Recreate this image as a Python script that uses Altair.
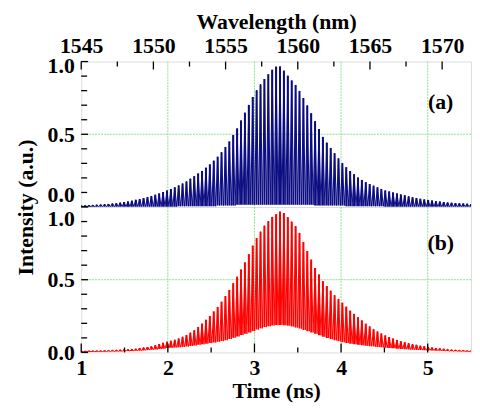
import altair as alt
import pandas as pd

# ---------------- data ----------------
# spike (peak) times in ns
peak_time = [1.000, 1.045, 1.090, 1.135, 1.180, 1.225, 1.270, 1.315, 1.360, 1.405,
             1.450, 1.495, 1.540, 1.585, 1.630, 1.675, 1.720, 1.765, 1.810, 1.855,
             1.900, 1.945, 1.990, 2.035, 2.080, 2.125, 2.170, 2.215, 2.260, 2.305,
             2.350, 2.395, 2.440, 2.485, 2.530, 2.575, 2.620, 2.665, 2.710, 2.755,
             2.800, 2.845, 2.890, 2.935, 2.980, 3.025, 3.070, 3.115, 3.160, 3.205,
             3.250, 3.295, 3.340, 3.385, 3.430, 3.475, 3.520, 3.565, 3.610, 3.655,
             3.700, 3.745, 3.790, 3.835, 3.880, 3.925, 3.970, 4.015, 4.060, 4.105,
             4.150, 4.195, 4.240, 4.285, 4.330, 4.375, 4.420, 4.465, 4.510, 4.555,
             4.600, 4.645, 4.690, 4.735, 4.780, 4.825, 4.870, 4.915, 4.960, 5.005,
             5.050, 5.095, 5.140, 5.185, 5.230, 5.275, 5.320, 5.365, 5.410, 5.455,
             5.500]

# trough times in ns (between spikes)
trough_time = [1.0225, 1.0675, 1.1125, 1.1575, 1.2025, 1.2475, 1.2925, 1.3375, 1.3825, 1.4275,
               1.4725, 1.5175, 1.5625, 1.6075, 1.6525, 1.6975, 1.7425, 1.7875, 1.8325, 1.8775,
               1.9225, 1.9675, 2.0125, 2.0575, 2.1025, 2.1475, 2.1925, 2.2375, 2.2825, 2.3275,
               2.3725, 2.4175, 2.4625, 2.5075, 2.5525, 2.5975, 2.6425, 2.6875, 2.7325, 2.7775,
               2.8225, 2.8675, 2.9125, 2.9575, 3.0025, 3.0475, 3.0925, 3.1375, 3.1825, 3.2275,
               3.2725, 3.3175, 3.3625, 3.4075, 3.4525, 3.4975, 3.5425, 3.5875, 3.6325, 3.6775,
               3.7225, 3.7675, 3.8125, 3.8575, 3.9025, 3.9475, 3.9925, 4.0375, 4.0825, 4.1275,
               4.1725, 4.2175, 4.2625, 4.3075, 4.3525, 4.3975, 4.4425, 4.4875, 4.5325, 4.5775,
               4.6225, 4.6675, 4.7125, 4.7575, 4.8025, 4.8475, 4.8925, 4.9375, 4.9825, 5.0275,
               5.0725, 5.1175, 5.1625, 5.2075, 5.2525, 5.2975, 5.3425, 5.3875, 5.4325, 5.4775]

# (a) spike heights
peak_a = [0.010, 0.011, 0.012, 0.013, 0.015, 0.017, 0.019, 0.021, 0.024, 0.026,
          0.030, 0.034, 0.038, 0.043, 0.049, 0.055, 0.061, 0.068, 0.076, 0.084,
          0.093, 0.103, 0.113, 0.124, 0.135, 0.148, 0.161, 0.176, 0.194, 0.212,
          0.230, 0.248, 0.270, 0.293, 0.318, 0.345, 0.376, 0.412, 0.450, 0.495,
          0.540, 0.594, 0.648, 0.702, 0.756, 0.802, 0.843, 0.880, 0.912, 0.943,
          0.965, 0.966, 0.937, 0.902, 0.869, 0.838, 0.798, 0.749, 0.698, 0.644,
          0.590, 0.536, 0.482, 0.442, 0.406, 0.370, 0.334, 0.301, 0.274, 0.247,
          0.225, 0.202, 0.186, 0.170, 0.158, 0.146, 0.135, 0.124, 0.113, 0.107,
          0.100, 0.093, 0.086, 0.080, 0.073, 0.067, 0.062, 0.056, 0.052, 0.048,
          0.044, 0.040, 0.037, 0.034, 0.031, 0.029, 0.027, 0.025, 0.024, 0.022,
          0.020]

# (a) trough levels
trough_a = [0.002, 0.002, 0.002, 0.002, 0.002, 0.002, 0.002, 0.002, 0.002, 0.002,
            0.002, 0.002, 0.002, 0.002, 0.002, 0.002, 0.002, 0.002, 0.002, 0.002,
            0.002, 0.002, 0.002, 0.002, 0.002, 0.005, 0.005, 0.005, 0.005, 0.005,
            0.005, 0.005, 0.005, 0.005, 0.005, 0.010, 0.010, 0.010, 0.010, 0.010,
            0.015, 0.015, 0.015, 0.015, 0.015, 0.015, 0.015, 0.015, 0.015, 0.015,
            0.015, 0.015, 0.015, 0.015, 0.015, 0.015, 0.015, 0.015, 0.015, 0.015,
            0.010, 0.010, 0.010, 0.010, 0.010, 0.010, 0.010, 0.010, 0.005, 0.005,
            0.005, 0.005, 0.005, 0.005, 0.005, 0.005, 0.005, 0.005, 0.002, 0.002,
            0.002, 0.002, 0.002, 0.002, 0.002, 0.002, 0.002, 0.002, 0.002, 0.002,
            0.002, 0.002, 0.002, 0.002, 0.002, 0.002, 0.002, 0.002, 0.002, 0.002]

# (b) spike heights
peak_b = [0.010, 0.010, 0.011, 0.011, 0.012, 0.012, 0.013, 0.014, 0.015, 0.016,
          0.018, 0.020, 0.022, 0.023, 0.026, 0.030, 0.034, 0.037, 0.042, 0.050,
          0.058, 0.066, 0.074, 0.080, 0.087, 0.096, 0.107, 0.120, 0.136, 0.152,
          0.175, 0.198, 0.224, 0.251, 0.281, 0.313, 0.348, 0.388, 0.430, 0.475,
          0.520, 0.570, 0.619, 0.675, 0.734, 0.785, 0.830, 0.871, 0.902, 0.932,
          0.950, 0.968, 0.958, 0.930, 0.899, 0.868, 0.822, 0.759, 0.697, 0.638,
          0.580, 0.535, 0.490, 0.456, 0.424, 0.393, 0.368, 0.341, 0.314, 0.287,
          0.265, 0.242, 0.220, 0.197, 0.178, 0.160, 0.144, 0.130, 0.117, 0.106,
          0.095, 0.086, 0.077, 0.070, 0.063, 0.057, 0.052, 0.046, 0.042, 0.038,
          0.034, 0.030, 0.028, 0.025, 0.022, 0.019, 0.017, 0.015, 0.014, 0.012,
          0.011]

# (b) trough levels
trough_b = [0.004, 0.004, 0.004, 0.004, 0.005, 0.005, 0.005, 0.006, 0.006, 0.007,
            0.007, 0.008, 0.009, 0.010, 0.011, 0.012, 0.014, 0.016, 0.018, 0.020,
            0.023, 0.026, 0.030, 0.032, 0.034, 0.036, 0.038, 0.041, 0.044, 0.048,
            0.052, 0.056, 0.060, 0.064, 0.068, 0.073, 0.078, 0.084, 0.092, 0.101,
            0.110, 0.120, 0.128, 0.137, 0.147, 0.157, 0.166, 0.174, 0.180, 0.185,
            0.188, 0.189, 0.187, 0.184, 0.179, 0.172, 0.164, 0.155, 0.146, 0.137,
            0.128, 0.118, 0.108, 0.099, 0.091, 0.083, 0.076, 0.070, 0.065, 0.060,
            0.056, 0.052, 0.049, 0.046, 0.043, 0.040, 0.037, 0.035, 0.032, 0.030,
            0.028, 0.026, 0.024, 0.022, 0.020, 0.019, 0.017, 0.016, 0.015, 0.014,
            0.013, 0.012, 0.011, 0.010, 0.009, 0.008, 0.008, 0.007, 0.007, 0.006]

time_domain = [1.0, 5.5]
level_domain = [0.0, 1.0]
wl_domain = [1545, 1572]

time_labels = [1, 2, 3, 4, 5]
time_minor = [1.5, 2.5, 3.5, 4.5]
grid_time = [2, 3, 4, 5]
grid_level = [0.5]
level_labels = [0.0, 0.5, 1.0]
level_minor = [0.1, 0.2, 0.3, 0.4, 0.6, 0.7, 0.8, 0.9]
wl_labels = [1545, 1550, 1555, 1560, 1565, 1570]
wl_minor = [1547.5, 1552.5, 1557.5, 1562.5, 1567.5]

panel_names = ["(a)", "(b)"]
panel_name_t = [5.15, 5.15]
panel_name_v = [0.72, 0.75]

# ---------------- styling ----------------
W, H = 394, 147
FONT = "Liberation Serif"
FS = 22
NAVY = "#0b0b82"
RED = "#ff0000"
GREEN = "#8fe08f"

xscale = alt.Scale(domain=time_domain, nice=False, zero=False)
yscale = alt.Scale(domain=level_domain, nice=False, zero=False)


def trace(peaks, troughs):
    return pd.DataFrame({"t": peak_time + trough_time, "v": peaks + troughs}).sort_values("t")


def spikes(peaks, troughs):
    low = troughs + [troughs[-1]]
    return pd.DataFrame({"t": peak_time, "v": peaks, "v2": low})


def y_axis(conditions, title=None):
    kw = dict(
        values=level_labels, format=".1f", ticks=False, domain=False, grid=False,
        labelFont=FONT, labelFontWeight="bold", labelFontSize=FS, labelColor="black",
        labelPadding=7,
        labelOffset={"condition": [{"test": f"datum.value === {v}", "value": o} for v, o in conditions],
                     "value": 0},
    )
    if title:
        kw.update(title=title, titleFont=FONT, titleFontWeight="bold", titleFontSize=FS,
                  titleColor="black", titleX=-56, titleY=H, titleBaseline="middle", titleAngle=270)
    else:
        kw.update(title=None)
    return alt.Axis(**kw)


def panel(peaks, troughs, color, label_index, yax, bottom_axis):
    df = trace(peaks, troughs)
    sp = spikes(peaks, troughs)
    X = lambda: alt.X("t:Q", scale=xscale, axis=bottom_axis)
    Y = alt.Y("v:Q", scale=yscale, axis=yax)

    grid_v = alt.Chart(pd.DataFrame({"t": grid_time})).mark_rule(
        color=GREEN, strokeWidth=1, strokeDash=[2, 1]).encode(x=X())
    grid_h = alt.Chart(pd.DataFrame({"v": grid_level})).mark_rule(
        color=GREEN, strokeWidth=1, strokeDash=[2, 1]).encode(y=Y)
    line = alt.Chart(df).mark_line(color=color, strokeWidth=1.0, clip=True).encode(x=X(), y=Y)
    bars = alt.Chart(sp).mark_rule(color=color, strokeWidth=2.0, clip=True).encode(
        x=X(), y=Y, y2="v2:Q")
    ticks_major = alt.Chart(pd.DataFrame({"v": level_labels})).mark_rule(
        color="black", strokeWidth=1.3).encode(y=Y, x=alt.value(0), x2=alt.value(7))
    ticks_minor = alt.Chart(pd.DataFrame({"v": level_minor})).mark_rule(
        color="black", strokeWidth=1.3).encode(y=Y, x=alt.value(0), x2=alt.value(6))
    name = alt.Chart(pd.DataFrame({"t": [panel_name_t[label_index]],
                                   "v": [panel_name_v[label_index]],
                                   "s": [panel_names[label_index]]})).mark_text(
        font=FONT, fontWeight="bold", fontSize=FS, color="black").encode(
        x=X(), y=Y, text="s:N")
    layers = [grid_v, grid_h, line, bars, ticks_major, ticks_minor, name]
    if bottom_axis is not None:
        tmaj = alt.Chart(pd.DataFrame({"t": time_labels})).mark_rule(
            color="black", strokeWidth=1.3).encode(x=X(), y=alt.value(H), y2=alt.value(H - 9))
        tmin = alt.Chart(pd.DataFrame({"t": time_minor})).mark_rule(
            color="black", strokeWidth=1.3).encode(x=X(), y=alt.value(H), y2=alt.value(H - 5))
        layers += [tmaj, tmin]
    return alt.layer(*layers)


time_axis = alt.Axis(values=time_labels, format="d", ticks=False, domain=False, grid=False,
                     labelFlush=False,
                     labelFont=FONT, labelFontWeight="bold", labelFontSize=FS, labelColor="black",
                     labelPadding=5, title="Time (ns)", titleFont=FONT, titleFontWeight="bold",
                     titleFontSize=FS, titleColor="black", titlePadding=3)

top_inner = panel(peak_a, trough_a, NAVY, 0,
                  y_axis([(0, -13), (1, 4)], "Intensity (a.u.)"), None)

wl_axis = alt.Axis(orient="top", values=wl_labels, format="d", ticks=False, domain=False, grid=False,
                   labelFlush=False,
                   labelFont=FONT, labelFontWeight="bold", labelFontSize=FS, labelColor="black",
                   labelPadding=4, title="Wavelength (nm)", titleFont=FONT, titleFontWeight="bold",
                   titleFontSize=FS, titleColor="black", titlePadding=1)
wlx = alt.X("w:Q", scale=alt.Scale(domain=wl_domain, nice=False, zero=False), axis=wl_axis)
wl_major = alt.Chart(pd.DataFrame({"w": wl_labels})).mark_rule(
    color="black", strokeWidth=1.3).encode(x=wlx, y=alt.value(0), y2=alt.value(8))
wl_min = alt.Chart(pd.DataFrame({"w": wl_minor})).mark_rule(
    color="black", strokeWidth=1.3).encode(x=wlx, y=alt.value(0), y2=alt.value(5))

top = alt.layer(top_inner, alt.layer(wl_major, wl_min)).resolve_scale(x="independent").properties(
    width=W, height=H)

bottom = panel(peak_b, trough_b, RED, 1, y_axis([(1, 12)]), time_axis).properties(width=W, height=H)

chart = alt.vconcat(top, bottom, spacing=0, bounds="flush").properties(
    padding={"left": 6, "top": 0, "right": 0, "bottom": 0}
).configure_view(stroke="black", strokeWidth=1.5).configure(background="white")

chart.save("out.html", embed_options={"renderer": "svg", "actions": False})
